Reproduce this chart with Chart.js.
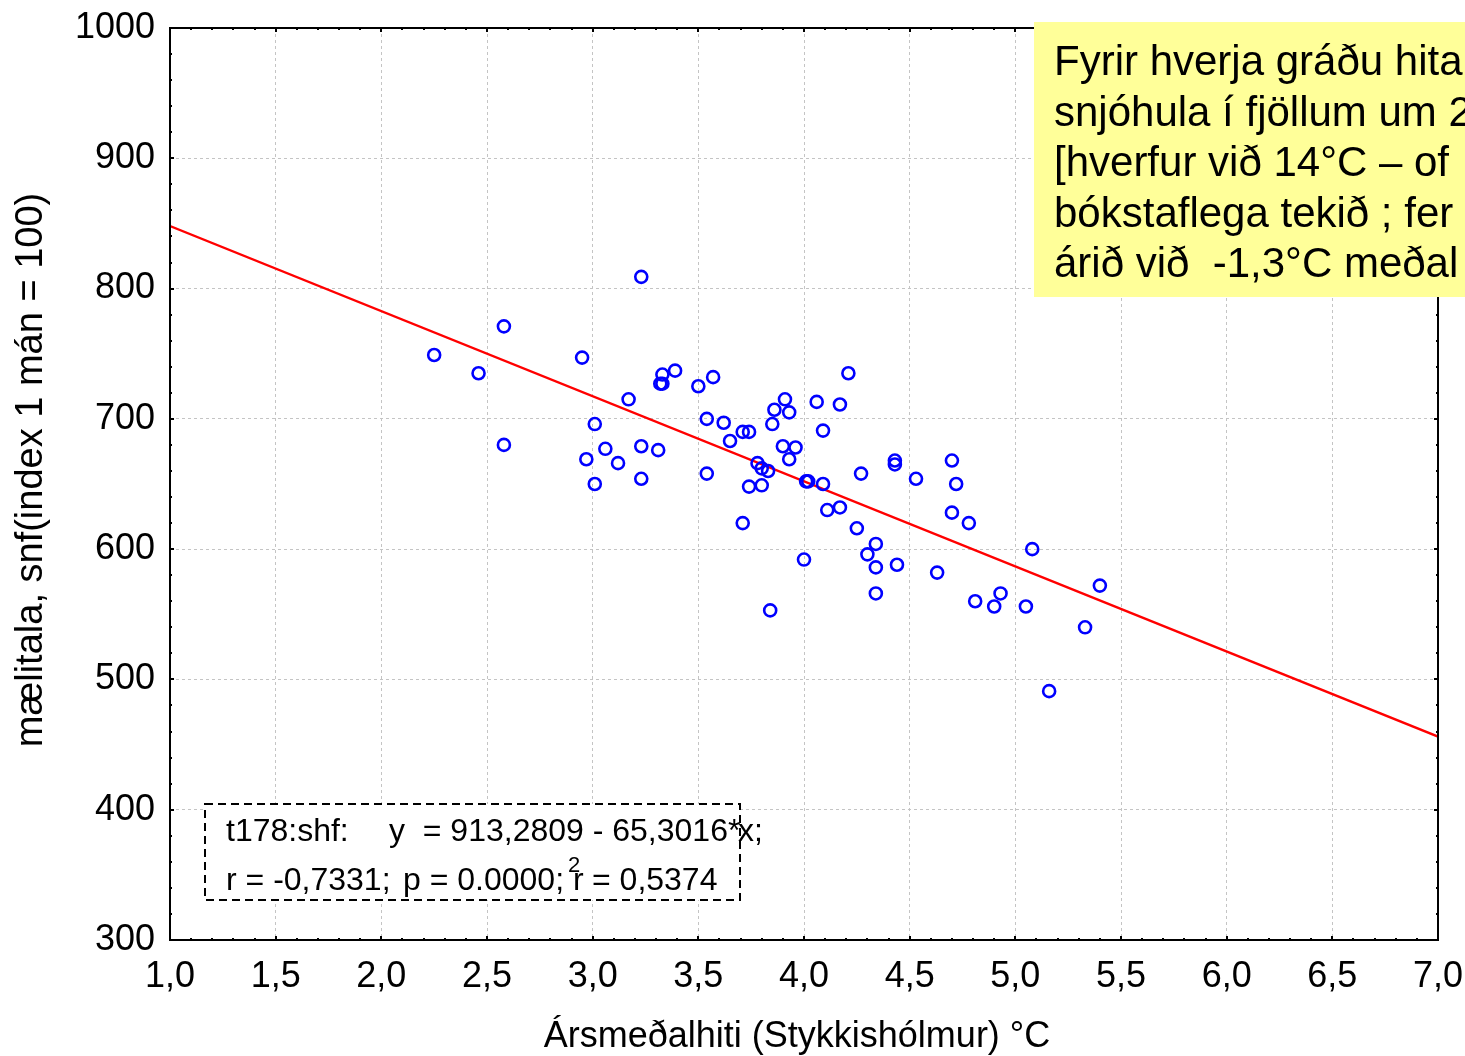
<!DOCTYPE html>
<html>
<head>
<meta charset="utf-8">
<script src="https://cdn.jsdelivr.net/npm/chart.js@4.4.1/dist/chart.umd.min.js"></script>
<style>
  body { margin: 0; background: #fff; }
  #wrap { width: 1465px; height: 1056px; }
</style>
</head>
<body>
<div id="wrap"><canvas id="scatterChart" width="1465" height="1056"></canvas></div>
<script>
// annual mean temperature at Stykkisholmur (deg C)
var xTemp = [2.25, 2.46, 2.58, 2.58, 2.95, 2.97, 3.01, 3.01, 3.06, 3.12,
             3.17, 3.23, 3.23, 3.23, 3.31, 3.33, 3.32, 3.33, 3.39, 3.50,
             3.57, 3.54, 3.54, 3.62, 3.65, 3.71, 3.74, 3.71, 3.74, 3.78,
             3.80, 3.83, 3.80, 3.84, 3.85, 3.86, 3.91, 3.93, 3.90, 3.96,
             3.93, 4.00, 4.01, 4.02, 4.06, 4.09, 4.09, 4.11, 4.17, 4.17,
             4.21, 4.25, 4.27, 4.30, 4.34, 4.34, 4.34, 4.43, 4.43, 4.44,
             4.53, 4.63, 4.70, 4.70, 4.72, 4.78, 4.81, 4.90, 4.93, 5.05,
             5.08, 5.16, 5.33, 5.40];
// snow index (1 month = 100)
var ySnow = [749, 735, 771, 680, 747, 669, 696, 650, 677, 666,
             715, 809, 679, 654, 676, 734, 727, 727, 737, 725,
             732, 700, 658, 697, 683, 690, 690, 620, 648, 666,
             662, 660, 649, 553, 696, 707, 715, 705, 679, 678,
             669, 592, 652, 652, 713, 650, 691, 630, 632, 711,
             735, 616, 658, 596, 604, 586, 566, 668, 665, 588,
             654, 582, 668, 628, 650, 620, 560, 556, 566, 556,
             600, 491, 540, 572];

var intercept = 913.2809;
var slope = -65.3016;
var rValue = -0.7331;
var pValue = '0.0000';
var r2Value = 0.5374;

var xMin = 1, xMax = 7, xStep = 0.5, xMinor = 0.1;
var yMin = 300, yMax = 1000, yStep = 100, yMinor = 20;

var xTitle = 'Ársmeðalhiti (Stykkishólmur) °C';
var yTitle = 'mælitala, snf(index 1 mán = 100)';
var noteLines = ['Fyrir hverja gráðu hita', 'snjóhula í fjöllum um 2', '[hverfur við 14°C – of', 'bókstaflega tekið ; fer', 'árið við  -1,3°C meðal'];

var FONT = "'Liberation Sans', Arial, sans-serif";

function comma(v, d) {
    return v.toFixed(d).replace('.', ',');
}

var points = [];
for (let i = 0; i < xTemp.length; i++) {
    points.push({x: xTemp[i], y: ySnow[i]});
}
var fitLine = [
    {x: xMin, y: intercept + slope * xMin},
    {x: xMax, y: intercept + slope * xMax}
];

var framePlugin = {
    id: 'frame',
    afterDraw: (chart) => {
        var ctx = chart.ctx;
        var a = chart.chartArea;
        var xs = chart.scales.x, ys = chart.scales.y;
        ctx.save();
        ctx.strokeStyle = '#000';
        ctx.lineWidth = 2;
        // minor + major ticks, pointing inward on all sides
        for (let v = xMin; v <= xMax + 1e-9; v += xMinor) {
            var px = Math.round(xs.getPixelForValue(v));
            var major = Math.abs(v / xStep - Math.round(v / xStep)) < 1e-6;
            var len = major ? 4 : 2;
            ctx.beginPath();
            ctx.moveTo(px, a.bottom); ctx.lineTo(px, a.bottom - len);
            ctx.moveTo(px, a.top); ctx.lineTo(px, a.top + len);
            ctx.stroke();
        }
        for (let v = yMin; v <= yMax; v += yMinor) {
            var py = Math.round(ys.getPixelForValue(v));
            var len = (v % yStep === 0) ? 4 : 2;
            ctx.beginPath();
            ctx.moveTo(a.left, py); ctx.lineTo(a.left + len, py);
            ctx.moveTo(a.right, py); ctx.lineTo(a.right - len, py);
            ctx.stroke();
        }
        ctx.strokeRect(a.left, a.top, a.right - a.left, a.bottom - a.top);

        // axis titles
        ctx.fillStyle = '#000';
        ctx.textAlign = 'center';
        ctx.textBaseline = 'middle';
        ctx.font = '36px ' + FONT;
        ctx.fillText(xTitle, 797, 1037);
        ctx.save();
        ctx.translate(32, 470);
        ctx.rotate(-Math.PI / 2);
        ctx.font = '38px ' + FONT;
        ctx.fillText(yTitle, 0, 0);
        ctx.restore();
        ctx.textAlign = 'left';
        ctx.textBaseline = 'alphabetic';

        // regression box
        ctx.fillStyle = '#fff';
        ctx.fillRect(205, 804, 535, 96);
        ctx.setLineDash([8, 5]);
        ctx.strokeRect(205, 804, 535, 96);
        ctx.setLineDash([]);
        ctx.fillStyle = '#000';
        ctx.font = '32px ' + FONT;
        ctx.fillText('t178:shf:', 226, 841);
        ctx.fillText('y  = ' + comma(intercept, 4) + ' - ' + comma(-slope, 4) + '*', 389, 841);
        ctx.fillText('x;', 738, 841);
        ctx.fillText('r = ' + comma(rValue, 4) + ';', 226, 890);
        ctx.fillText('p = ' + pValue + ';', 403, 890);
        ctx.fillText('r', 573, 890);
        ctx.fillText('= ' + comma(r2Value, 4), 592, 890);
        ctx.font = '22px ' + FONT;
        ctx.fillText('2', 568, 872);

        // yellow note
        ctx.fillStyle = '#ffff99';
        ctx.fillRect(1034, 22, 431, 275);
        ctx.fillStyle = '#000';
        ctx.font = '42px ' + FONT;
        for (let i = 0; i < noteLines.length; i++) {
            ctx.fillText(noteLines[i], 1054, 75 + i * 50.5);
        }
        ctx.restore();
    }
};

var ctx1 = document.getElementById('scatterChart').getContext('2d');
var myChart1 = new Chart(ctx1, {
    type: 'scatter',
    data: {
        datasets: [{
            label: 'mælitala',
            data: points,
            pointStyle: 'circle',
            pointRadius: 6,
            pointHoverRadius: 6,
            pointBorderWidth: 2.6,
            borderColor: '#0000ff',
            backgroundColor: 'rgba(0,0,0,0)'
        }, {
            type: 'line',
            label: 'fit',
            data: fitLine,
            borderColor: '#ff0000',
            borderWidth: 2.4,
            pointRadius: 0,
            fill: false
        }]
    },
    options: {
        responsive: false,
        animation: false,
        events: [],
        layout: { padding: { top: 28, right: 27, left: 0, bottom: 0 } },
        plugins: {
            legend: { display: false },
            tooltip: { enabled: false }
        },
        scales: {
            x: {
                type: 'linear',
                min: xMin,
                max: xMax,
                afterFit: (scale) => {
                    scale.height = 116;
                    scale.paddingLeft = 0;
                    scale.paddingRight = 0;
                },
                ticks: {
                    stepSize: xStep,
                    color: '#000',
                    padding: 15,
                    maxRotation: 0,
                    autoSkip: false,
                    font: { family: FONT, size: 36 },
                    callback: (v) => comma(v, 1)
                },
                grid: { color: '#c4c4c4', lineWidth: 1, drawTicks: false },
                border: { display: false, dash: [3, 3] }
            },
            y: {
                type: 'linear',
                min: yMin,
                max: yMax,
                afterFit: (scale) => {
                    scale.width = 170;
                    scale.paddingTop = 0;
                    scale.paddingBottom = 0;
                },
                ticks: {
                    stepSize: yStep,
                    color: '#000',
                    padding: 15,
                    font: { family: FONT, size: 36 },
                    callback: (v) => String(v)
                },
                grid: { color: '#c4c4c4', lineWidth: 1, drawTicks: false },
                border: { display: false, dash: [3, 3] }
            }
        }
    },
    plugins: [framePlugin]
});
</script>
</body>
</html>
